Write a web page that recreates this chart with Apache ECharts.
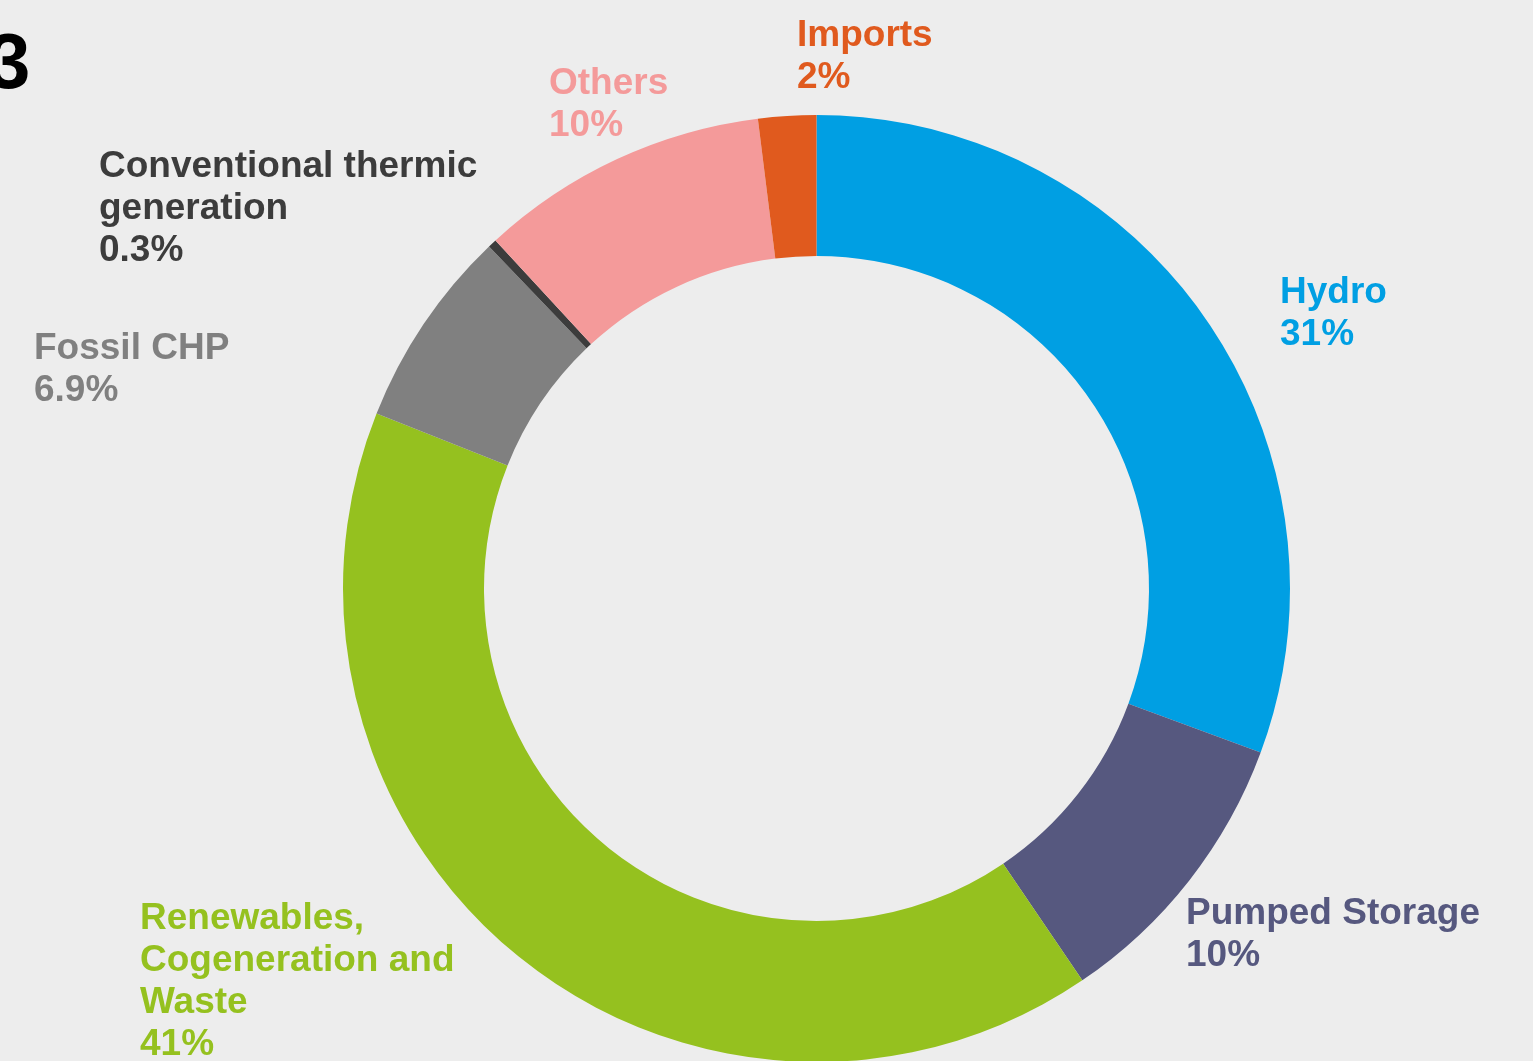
<!DOCTYPE html>
<html>
<head>
<meta charset="utf-8">
<script src="https://cdn.jsdelivr.net/npm/echarts@6/dist/echarts.min.js"></script>
<style>
html,body{margin:0;padding:0;background:#EDEDED;}
#chart{width:1533px;height:1061px;}
</style>
</head>
<body>
<div id="chart"></div>
<script>
// ---- data ----
const categories = [
  'Hydro',
  'Pumped Storage',
  'Renewables,\nCogeneration and\nWaste',
  'Fossil CHP',
  'Conventional thermic\ngeneration',
  'Others',
  'Imports'
];
const shares = [31, 10, 41, 6.9, 0.3, 10, 2];
const headingText = '3';

// ---- styles / layout (not data) ----
const sliceColors = ['#009FE3', '#56587F', '#95C11F', '#808080', '#3C3C3C', '#F49A9A', '#E05A1E'];
const labelColors = ['#009FE3', '#56587F', '#95C11F', '#808080', '#3C3C3C', '#F49A9A', '#E05A1E'];
const labelAnchors = [
  [1280, 272],
  [1186, 893],
  [140, 898],
  [34, 328],
  [99, 146],
  [549, 63],
  [797, 15]
];

const chart = echarts.init(document.getElementById('chart'));
const seriesData = categories.map((name, i) => ({
  name: name,
  value: shares[i],
  itemStyle: { color: sliceColors[i] },
  label: { color: labelColors[i] }
}));

chart.setOption({
  backgroundColor: '#EDEDED',
  animation: false,
  graphic: [{
    type: 'text',
    left: -13,
    top: 27,
    style: {
      text: headingText,
      font: 'bold 78px "Liberation Sans", Arial, sans-serif',
      fill: '#000000'
    }
  }],
  series: [{
    type: 'pie',
    center: [816.5, 588.5],
    radius: [332.5, 473.5],
    startAngle: 90,
    clockwise: true,
    avoidLabelOverlap: false,
    silent: true,
    itemStyle: { borderWidth: 0 },
    labelLine: { show: false },
    label: {
      show: true,
      position: 'outside',
      formatter: p => p.name + '\n' + p.value + '%',
      fontFamily: '"Liberation Sans", Arial, sans-serif',
      fontWeight: 'bold',
      fontSize: 37,
      lineHeight: 42,
      align: 'left'
    },
    labelLayout: function (params) {
      const a = labelAnchors[params.dataIndex];
      return { x: a[0], y: a[1], align: 'left', verticalAlign: 'top' };
    },
    data: seriesData
  }]
});
</script>
</body>
</html>
